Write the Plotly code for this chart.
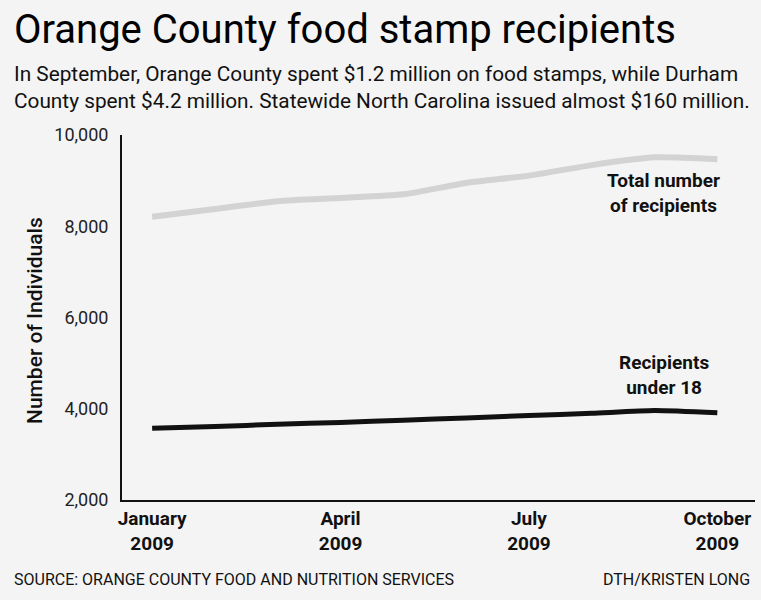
import plotly.graph_objects as go

# ---- data ----
months = ["Jan", "Feb", "Mar", "Apr", "May", "Jun", "Jul", "Aug", "Sep", "Oct"]
total_recipients = [8210, 8380, 8550, 8620, 8700, 8950, 9110, 9340, 9510, 9470]
under_18 = [3570, 3610, 3660, 3700, 3750, 3800, 3850, 3900, 3960, 3910]
x_tick_labels = ["January<br>2009", "April<br>2009", "July<br>2009", "October<br>2009"]
x_tick_months = ["Jan", "Apr", "Jul", "Oct"]
y_ticks = [2000, 4000, 6000, 8000, 10000]

FONT = "Roboto, Liberation Sans, sans-serif"
BG = "#f4f4f4"

x_idx = list(range(len(months)))
tickvals = [months.index(m) for m in x_tick_months]

fig = go.Figure()
fig.add_trace(go.Scatter(x=x_idx, y=total_recipients, mode="lines",
                         line=dict(color="#d3d3d3", width=6, shape="spline", smoothing=0.6),
                         hoverinfo="skip", showlegend=False))
fig.add_trace(go.Scatter(x=x_idx, y=under_18, mode="lines",
                         line=dict(color="#111111", width=5, shape="spline", smoothing=0.6),
                         hoverinfo="skip", showlegend=False))

fig.update_layout(
    width=761, height=600,
    margin=dict(l=122, r=6, t=135, b=100),
    paper_bgcolor=BG, plot_bgcolor=BG,
    font=dict(family=FONT, color="#111111"),
    xaxis=dict(range=[-0.48, 9.6], tickvals=tickvals, ticktext=x_tick_labels,
               showgrid=False, zeroline=False, showline=True, linecolor="#111111",
               linewidth=2, ticks="", tickfont=dict(size=19, family=FONT, weight="bold")),
    yaxis=dict(range=[2000, 10000], tickvals=y_ticks, tickformat=",",
               showgrid=False, zeroline=False, showline=True, linecolor="#111111",
               linewidth=2, ticks="", ticklabelstandoff=8,
               tickfont=dict(size=18, family=FONT, color="#222222")),
)

annotations = [
    dict(text="Orange County food stamp recipients", xref="paper", yref="paper",
         x=(12 - 122) / 633, y=1 + (135 - 30) / 365, xanchor="left", yanchor="middle",
         showarrow=False, font=dict(size=40, family=FONT, weight=400, color="#000000")),
    dict(text="In September, Orange County spent $1.2 million on food stamps, while Durham<br>"
              "County spent $4.2 million. Statewide North Carolina issued almost $160 million.",
         xref="paper", yref="paper", align="left",
         x=(12 - 122) / 633, y=1 + (135 - 87) / 365, xanchor="left", yanchor="middle",
         showarrow=False, font=dict(size=20.8, family=FONT, color="#111111")),
    dict(text="Number of Individuals", xref="paper", yref="paper", textangle=-90,
         x=(35 - 122) / 633, y=(500 - 321) / 365, xanchor="center", yanchor="middle",
         showarrow=False, font=dict(size=21, family=FONT, weight=500, color="#111111")),
    dict(text="Total number<br>of recipients", x=8.15, y=8729, xref="x", yref="y",
         showarrow=False, font=dict(size=19, family=FONT, weight="bold")),
    dict(text="Recipients<br>under 18", x=8.15, y=4740, xref="x", yref="y",
         showarrow=False, font=dict(size=19, family=FONT, weight="bold")),
    dict(text="SOURCE: ORANGE COUNTY FOOD AND NUTRITION SERVICES", xref="paper", yref="paper",
         x=(12 - 122) / 633, y=-(579 - 500) / 365, xanchor="left", yanchor="middle",
         showarrow=False, font=dict(size=16, family=FONT, color="#111111")),
    dict(text="DTH/KRISTEN LONG", xref="paper", yref="paper",
         x=(752 - 122) / 633, y=-(579 - 500) / 365, xanchor="right", yanchor="middle",
         showarrow=False, font=dict(size=16, family=FONT, color="#111111")),
]
fig.update_layout(annotations=annotations)

fig.write_html("out.html", config={"displayModeBar": False},
               post_script="document.body.style.margin='0';document.body.style.overflow='hidden';")
